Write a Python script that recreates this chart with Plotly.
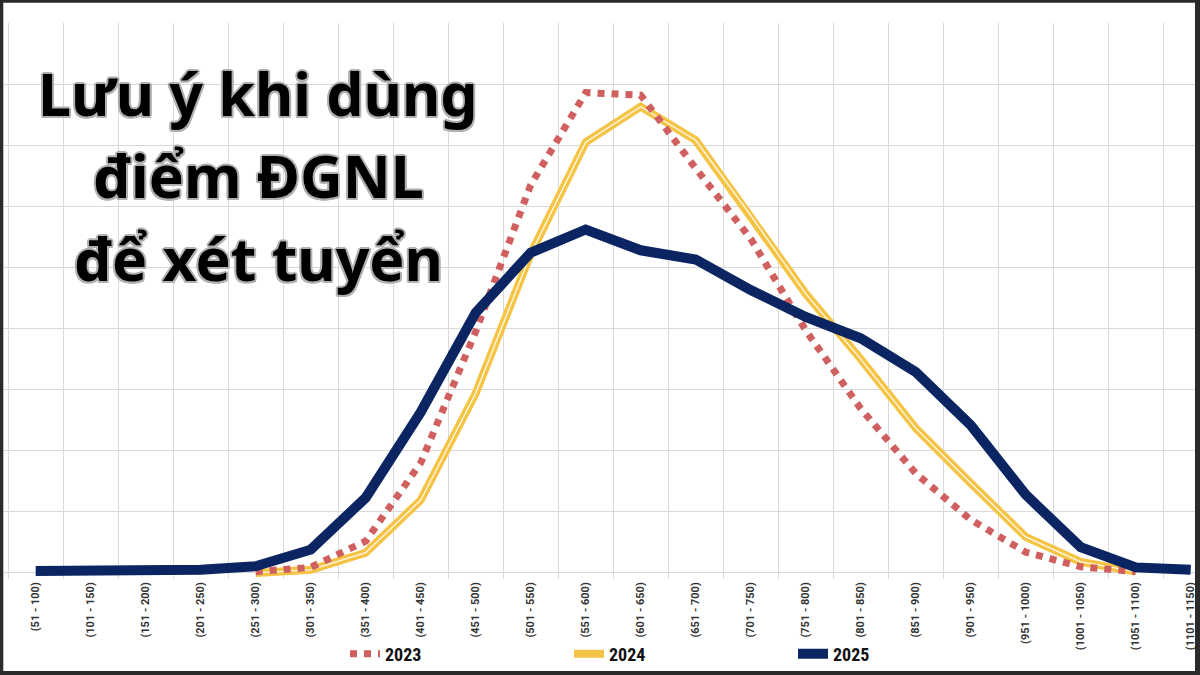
import plotly.graph_objects as go

categories = ["(51 - 100)", "(101 - 150)", "(151 - 200)", "(201 - 250)", "(251 - 300)",
              "(301 - 350)", "(351 - 400)", "(401 - 450)", "(451 - 500)", "(501 - 550)",
              "(551 - 600)", "(601 - 650)", "(651 - 700)", "(701 - 750)", "(751 - 800)",
              "(801 - 850)", "(851 - 900)", "(901 - 950)", "(951 - 1000)", "(1001 - 1050)",
              "(1051 - 1100)", "(1101 - 1150)"]

v2023 = [None, None, None, None, 0.02, 0.09, 0.52, 1.80, 3.95, 6.35, 7.86, 7.82,
         6.62, 5.47, 3.97, 2.69, 1.63, 0.87, 0.34, 0.10, 0.02, None]
v2024 = [None, None, None, None, 0.00, 0.05, 0.33, 1.19, 2.94, 5.22, 7.05, 7.63,
         7.08, 5.85, 4.57, 3.50, 2.37, 1.47, 0.59, 0.18, 0.02, None]
v2025 = [0.03, 0.03, 0.03, 0.05, 0.11, 0.38, 1.23, 2.63, 4.26, 5.24, 5.62, 5.28,
         5.13, 4.63, 4.19, 3.84, 3.29, 2.42, 1.28, 0.42, 0.09, 0.05]

title_lines = ["Lưu ý khi dùng", "điểm ĐGNL", "để xét tuyển"]

W, H = 1200, 675
ML, MR, MT, MB = 0, 0, 23, 96
PW, PH = W - ML - MR, H - MT - MB


def px(x):
    return (x - ML) / PW


def py(y):
    return (H - MB - y) / PH


RED = "#D0605F"
YEL = "#F5C445"
NAVY = "#0B2562"

fig = go.Figure()
fig.add_trace(go.Scatter(x=categories, y=v2024, name="2024", mode="lines",
                         line=dict(color=YEL, width=8), legendrank=2))
fig.add_trace(go.Scatter(x=categories, y=v2024, name="2024w", mode="lines",
                         line=dict(color="rgba(255,255,255,0.9)", width=1.3),
                         showlegend=False, hoverinfo="skip"))
fig.add_trace(go.Scatter(x=categories, y=v2023, name="2023", mode="lines",
                         line=dict(color=RED, width=7, dash="dot"), legendrank=1))
fig.add_trace(go.Scatter(x=categories, y=v2025, name="2025", mode="lines",
                         line=dict(color=NAVY, width=10), legendrank=3))

x0 = (0 - 35.7) / 55
x1 = x0 + PW / 55

fig.update_xaxes(type="category", range=[x0, x1], tickson="boundaries",
                 showgrid=True, gridcolor="#D9D9D9", gridwidth=1,
                 ticks="", tickangle=-90,
                 tickfont=dict(family="Roboto", size=11, color="#333333", weight="bold"),
                 showline=False, zeroline=False)
fig.update_yaxes(range=[-0.1, 9], dtick=1, tick0=0, showgrid=True,
                 gridcolor="#D9D9D9", gridwidth=1, showticklabels=False,
                 zeroline=True, zerolinecolor="#D9D9D9", zerolinewidth=1,
                 showline=False)

shadow = ", ".join(f"{a}px {b}px 0 #B0B0B0" for a, b in
                   [(2, 0), (-2, 0), (0, 2), (0, -2), (1.5, 1.5), (-1.5, 1.5), (1.5, -1.5), (-1.5, -1.5)])
for txt, yc in zip(title_lines, [93, 175, 258]):
    fig.add_annotation(text=txt, xref="paper", yref="paper", x=px(258), y=py(yc),
                       xanchor="center", yanchor="middle", showarrow=False,
                       font=dict(family="Noto Sans", size=59, color="#000000",
                                 weight="bold", shadow=shadow))

DARK = "#2A2A2A"
for (a, b, c, d) in [(0, 0, 3.3, H), (0, 0, W, 2.7), (1195, 0, W, H), (0, 671, W, H)]:
    fig.add_shape(type="rect", xref="paper", yref="paper",
                  x0=px(a), x1=px(c), y0=py(d), y1=py(b),
                  fillcolor=DARK, line=dict(width=0), layer="above")

fig.update_layout(
    width=W, height=H,
    margin=dict(l=ML, r=MR, t=MT, b=MB),
    paper_bgcolor="white", plot_bgcolor="white",
    showlegend=True,
    legend=dict(orientation="h", x=px(345), y=py(654), xanchor="left", yanchor="middle",
                entrywidth=179, entrywidthmode="pixels",
                font=dict(family="Roboto Condensed, Roboto", size=18, color="#111111", weight="bold"),
                bgcolor="rgba(0,0,0,0)"),
)

fig.write_html("out.html")
